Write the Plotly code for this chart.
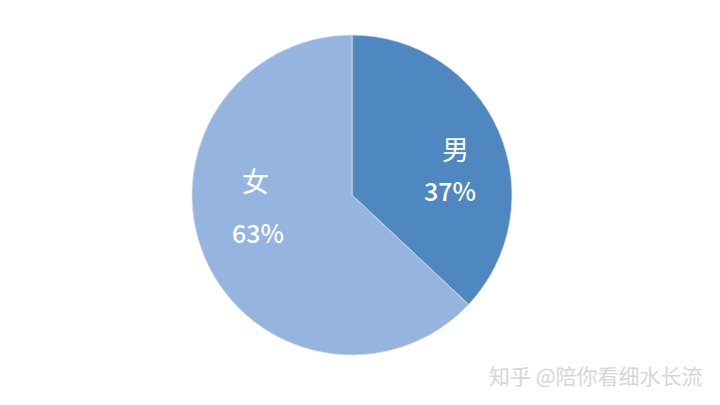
import plotly.graph_objects as go

labels = ["男", "女"]
values = [37, 63]
colors = ["#4F87C0", "#95B4DF"]
# label anchor positions (screen px in the reference picture) for name / percent lines
label_pos = {"男": [(455, 148), (450, 190)], "女": [(255, 180), (258, 232)]}

W, H, OFF = 720, 405, 8  # page body margin offset

fig = go.Figure(go.Pie(
    labels=labels,
    values=values,
    sort=False,
    direction="clockwise",
    rotation=0,
    marker=dict(colors=colors, line=dict(color="#DADDE2", width=0.8)),
    textinfo="none",
    hoverinfo="label+percent",
    domain=dict(x=[(192 - OFF) / W, (512 - OFF) / W], y=[1 - (355 - OFF) / H, 1 - (35 - OFF) / H]),
    showlegend=False,
))

total = sum(values)
for lab, val in zip(labels, values):
    (nx, ny), (px, py) = label_pos[lab]
    for (sx, sy), txt, sz, wt in (((nx, ny), lab, 27, 400),
                                  ((px, py), f"{round(100 * val / total)}%", 25, 500)):
        fig.add_annotation(
            text=txt, x=(sx - OFF) / W, y=1 - (sy - OFF) / H, xref="paper", yref="paper",
            xanchor="center", yanchor="middle", showarrow=False,
            font=dict(size=sz, color="white", family="Noto Sans CJK SC", weight=wt),
        )

fig.add_annotation(
    text="知乎 @陪你看细水长流", x=(705 - OFF) / W, y=1 - (375 - OFF) / H, xref="paper", yref="paper",
    xanchor="right", yanchor="middle", showarrow=False,
    font=dict(size=21, color="#D6D6D6", family="Noto Sans CJK SC"),
)

fig.update_layout(
    width=W, height=H,
    margin=dict(l=0, r=0, t=0, b=0),
    paper_bgcolor="white", plot_bgcolor="white",
)

fig.write_html("out.html")
